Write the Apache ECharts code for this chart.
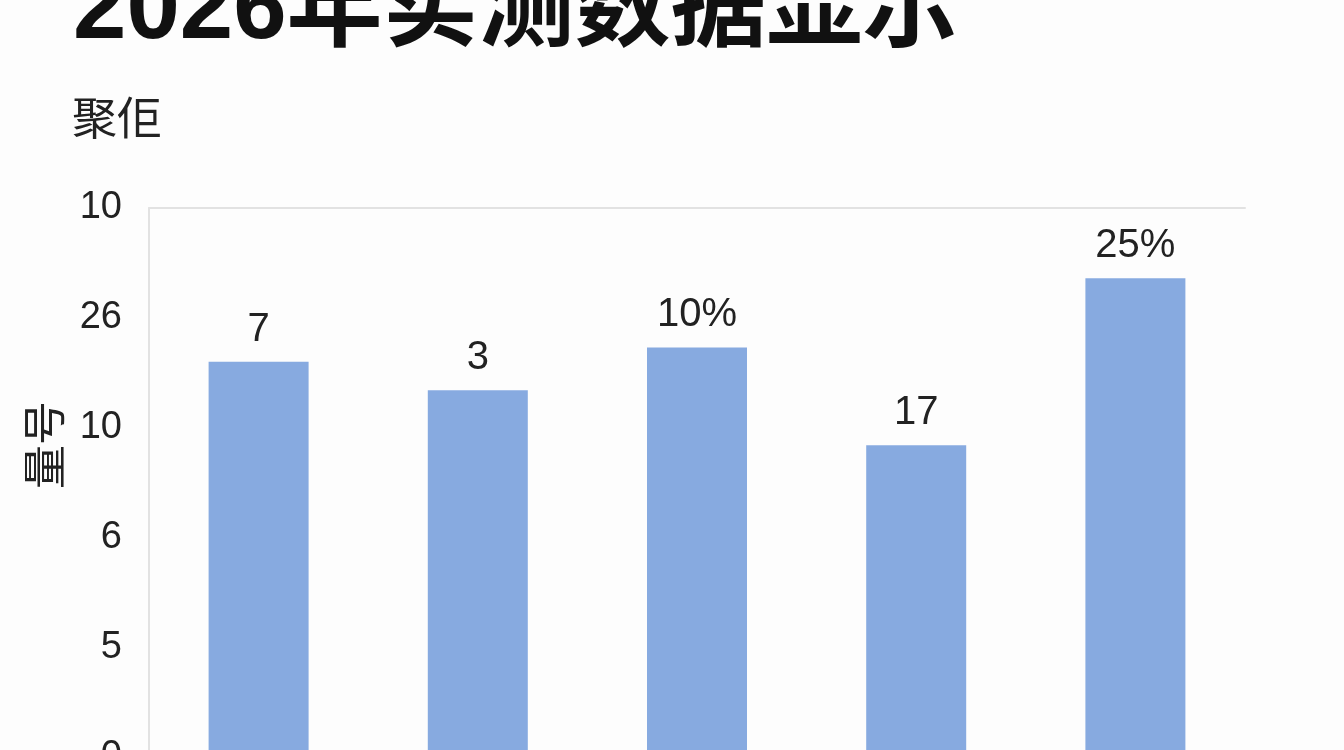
<!DOCTYPE html>
<html>
<head>
<meta charset="utf-8">
<script src="https://cdn.jsdelivr.net/npm/echarts@6/dist/echarts.min.js"></script>
<style>
  html, body { margin: 0; padding: 0; background: #fdfdfd; }
  #chart { width: 1344px; height: 750px; }
</style>
</head>
<body>
<div id="chart"></div>
<script>
var categories = ['A', 'B', 'C', 'D', 'E'];
var barValues = [3.6, 3.34, 3.73, 2.84, 4.36];
var barLabels = ['7', '3', '10%', '17', '25%'];
var tickLabels = ['0', '5', '6', '10', '26', '10'];

var chart = echarts.init(document.getElementById('chart'));
var font = '"Liberation Sans", "Noto Sans CJK SC", sans-serif';
var cjk = '"Noto Sans CJK SC", sans-serif';

var option = {
  backgroundColor: '#fdfdfd',
  title: [
    {
      text: '2026年实测数据显示',
      left: 68,
      top: -41,
      textStyle: { fontSize: 96, fontWeight: 'bold', color: '#111', fontFamily: font }
    },
    {
      text: '聚佢',
      left: 67,
      top: 90,
      textStyle: { fontSize: 45, fontWeight: 'normal', color: '#222', fontFamily: cjk }
    }
  ],
  graphic: [
    {
      type: 'text',
      x: 44,
      y: 445,
      rotation: Math.PI / 2,
      style: {
        text: '量号',
        fontSize: 44,
        fontFamily: cjk,
        fill: '#222',
        textAlign: 'center',
        textVerticalAlign: 'middle'
      }
    }
  ],
  grid: { left: 149, top: 208, width: 1096, height: 549, outerBoundsMode: 'none' },
  xAxis: [
    {
      type: 'category',
      data: categories,
      axisLine: { show: false },
      axisTick: { show: false },
      axisLabel: { show: false }
    },
    {
      type: 'category',
      position: 'top',
      data: categories,
      axisLine: { show: true, lineStyle: { color: '#e2e2e2', width: 2 } },
      axisTick: { show: false },
      axisLabel: { show: false }
    }
  ],
  yAxis: {
    type: 'value',
    min: 0,
    max: 5,
    interval: 1,
    axisLine: { show: true, lineStyle: { color: '#e2e2e2', width: 2 } },
    axisTick: { show: false },
    splitLine: { show: false },
    axisLabel: {
      margin: 27,
      fontSize: 38,
      color: '#222',
      fontFamily: font,
      formatter: function (v) { return tickLabels[Math.round(v)]; }
    }
  },
  series: [
    {
      type: 'bar',
      data: barValues,
      barWidth: 100,
      itemStyle: { color: '#87aae0' },
      label: {
        show: true,
        position: 'top',
        distance: 12,
        fontSize: 40,
        color: '#222',
        fontFamily: font,
        formatter: function (p) { return barLabels[p.dataIndex]; }
      }
    }
  ]
};

chart.setOption(option);
</script>
</body>
</html>
